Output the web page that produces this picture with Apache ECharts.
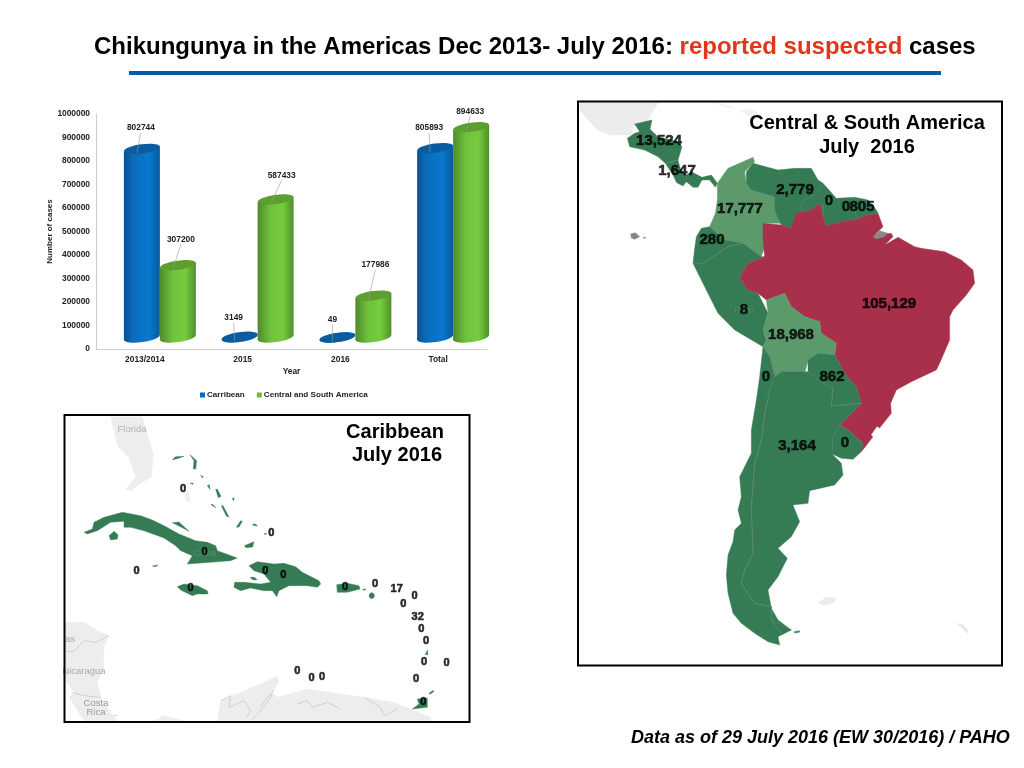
<!DOCTYPE html>
<html><head><meta charset="utf-8">
<style>html,body{margin:0;padding:0;background:#fff}#c{width:1024px;height:768px}</style>
<script src="https://cdn.jsdelivr.net/npm/echarts@6/dist/echarts.min.js"></script>
</head><body><div id="c"></div>
<script>
// ---------- chart values ----------
const years = ['2013/2014','2015','2016','Total'];
const carribean = [802744,3149,49,805893];
const centralSouth = [307200,587433,177986,894633];
const seriesNames = ['Carribean','Central and South America'];

// ---------- map values ----------
const southNames = ['Central America N','Central America S','Venezuela','Guyana','Suriname','French Guiana','Colombia','Ecuador','Peru','Brazil','Bolivia','Paraguay','Chile','Argentina','Uruguay'];
const southLabels = ['13,524','1,647','2,779','0','0','805','17,777','280','8','105,129','18,968','862','0','3,164','0'];
const caribLabels = ['0','0','0','0','0','0','0','0','0','17','0','0','32','0','0','0','0','0','0','0','0','0'];

// ---------- map label anchors (map units) ----------
const southAnchors = [[243,123],[297,213],[651,270],[753,303],[804,321],[852,321],[486,327],[402,420],[498,630],[933,612],[639,705],[762,831],[564,831],[657,1038],[801,1029]];
const caribAnchors = [[357,226],[422,414],[218,470],[380,522],[604,470],[622,356],[658,482],[843,520],[933,510],[998,526],[1018,570],[1052,546],[1061,610],[1072,645],[1086,682],[1080,744],[1148,746],[1056,794],[1078,865],[700,772],[743,792],[774,788]];

// ---------- map outlines (map units, y down) ----------
const southShapes = {
 'Mexico':[[5,8],[240,8],[222,40],[205,68],[170,72],[160,105],[100,105],[60,92],[5,30]],
 'CubaBg':[[410,10],[440,14],[470,25],[445,22]],
 'HispBg':[[485,32],[520,28],[555,45],[515,48]],
 'Falklands':[[718,1508],[745,1492],[775,1494],[765,1510],[735,1516]],
 'Georgia':[[1135,1570],[1155,1575],[1170,1590],[1168,1600],[1150,1582]],
 'Central America N':[[170,72],[222,60],[216,88],[240,110],[300,125],[312,140],[300,180],[262,190],[240,170],[200,150],[155,140],[148,115],[170,100],[185,95]],
 'Central America S':[[262,190],[300,180],[308,210],[325,225],[340,215],[372,232],[400,225],[418,250],[412,262],[395,240],[372,240],[360,262],[345,262],[325,245],[315,258],[296,248],[285,225]],
 'Colombia':[[418,250],[450,205],[525,172],[530,185],[500,215],[505,250],[520,270],[590,290],[590,330],[610,370],[555,370],[555,420],[560,440],[550,470],[495,430],[440,420],[395,380],[412,340],[418,300]],
 'Venezuela':[[505,215],[525,190],[600,210],[650,205],[700,205],[720,240],[735,250],[720,280],[670,305],[670,335],[640,385],[610,375],[590,330],[590,290],[520,270],[505,250]],
 'Guyana':[[670,305],[720,280],[735,250],[775,295],[738,305],[735,350],[725,310],[700,330],[655,340],[640,385],[670,335]],
 'Suriname':[[775,295],[830,292],[835,358],[790,365],[745,378],[735,350],[738,305]],
 'French Guiana':[[830,292],[870,300],[895,330],[900,340],[870,345],[835,358]],
 'Ecuador':[[395,380],[440,420],[495,430],[450,440],[420,460],[375,490],[345,490],[350,445],[355,410],[370,385]],
 'Peru':[[345,490],[380,560],[420,640],[470,690],[555,740],[565,720],[555,690],[570,640],[540,580],[510,570],[485,535],[510,490],[560,470],[550,470],[495,430],[450,440],[420,460],[375,490]],
 'Brazil':[[555,370],[610,375],[640,385],[655,340],[700,330],[725,310],[735,350],[745,378],[790,365],[835,358],[870,345],[900,340],[915,380],[890,405],[940,400],[945,410],[920,435],[960,412],[1010,440],[1030,445],[1100,455],[1150,480],[1185,510],[1190,550],[1165,585],[1125,630],[1115,650],[1115,720],[1085,790],[1075,810],[1000,845],[955,870],[938,910],[940,940],[900,990],[870,1030],[850,1055],[855,1030],[810,990],[785,975],[850,910],[835,860],[820,845],[800,820],[770,765],[775,730],[730,700],[725,665],[680,650],[640,620],[620,580],[565,600],[540,580],[510,570],[485,535],[510,490],[560,470],[555,420]],
 'Bolivia':[[570,640],[565,600],[620,580],[640,620],[680,650],[725,665],[730,700],[775,730],[770,765],[720,760],[690,780],[680,815],[610,815],[590,830],[575,770],[555,740],[565,720],[555,690]],
 'Paraguay':[[690,780],[720,760],[770,765],[800,820],[835,860],[850,910],[760,918],[765,870],[690,815]],
 'Uruguay':[[785,975],[810,990],[855,1030],[850,1055],[825,1078],[790,1075],[762,1062],[765,1010]],
 'Chile':[[555,740],[575,770],[590,830],[578,860],[560,940],[550,1020],[530,1090],[525,1160],[520,1220],[525,1360],[500,1410],[490,1450],[530,1510],[580,1520],[580,1560],[640,1590],[600,1610],[605,1635],[570,1625],[530,1600],[490,1570],[465,1540],[450,1480],[445,1425],[450,1365],[465,1325],[470,1290],[490,1270],[480,1230],[490,1190],[485,1130],[520,1060],[520,990],[535,900],[545,830]],
 'Argentina':[[590,830],[610,815],[680,815],[690,815],[765,870],[760,918],[850,910],[785,975],[765,1010],[762,1062],[790,1090],[795,1125],[770,1155],[695,1172],[690,1210],[645,1215],[665,1265],[640,1310],[600,1345],[628,1375],[600,1430],[570,1470],[580,1525],[600,1560],[640,1590],[580,1560],[580,1520],[530,1510],[490,1450],[500,1410],[525,1360],[520,1220],[525,1160],[530,1090],[550,1020],[560,940],[578,860]],
 'Fuego':[[648,1595],[665,1592],[664,1597],[650,1599]],
 'Patos':[[880,1005],[897,980],[905,985],[888,1012]],
 'Delta':[[885,410],[905,392],[930,400],[915,412],[895,416]],
 'Galapagos':[[158,402],[172,398],[185,410],[170,418],[160,414]],
 'Galapagos2':[[195,412],[203,412],[200,417]]
};
const southFill = {Mexico:'#ececec',CubaBg:'#f1f1f1',HispBg:'#f1f1f1',Falklands:'#ececec',Georgia:'#e6e6e6',Brazil:'#a8304a',Colombia:'#5c9a6c',Bolivia:'#5c9a6c',Patos:'#ffffff',Delta:'#8a8a8a',Galapagos:'#7d8a84',Galapagos2:'#7d8a84'};
const southLines = {
 'lineChile':[[578,860],[560,940],[550,1020],[530,1090],[525,1160],[520,1220],[525,1360],[500,1410],[490,1450],[530,1510],[580,1520],[580,1560],[610,1600]],
 'lineParaguay':[[765,860],[760,918],[850,910]],
 'lineEcuador':[[375,490],[420,460],[450,440],[495,430]],
 'lineCostaRica':[[262,190],[300,180]],
 'lineArgBol':[[590,830],[610,815],[680,815],[690,780]]
};

const caribShapes = {
 'Florida':[[140,8],[235,8],[250,60],[268,120],[262,190],[235,205],[200,230],[185,225],[215,190],[195,130],[160,95],[150,50]],
 'BahamaBg':[[358,232],[372,228],[380,268],[366,262]],
 'CAmericaN':[[0,625],[60,625],[100,650],[135,665],[95,685],[60,680],[30,712],[0,710]],
 'CAmericaM':[[0,710],[30,712],[60,680],[95,685],[135,665],[120,700],[118,770],[100,800],[110,850],[30,835],[0,790]],
 'CAmericaS':[[30,835],[110,850],[150,910],[160,920],[60,920],[15,850]],
 'Colombia':[[460,920],[470,860],[590,810],[640,785],[645,800],[625,840],[640,850],[610,905],[565,920]],
 'Venezuela':[[625,840],[640,850],[730,825],[900,850],[990,865],[1100,910],[1100,920],[565,920],[610,905]],
 'SmallCoast':[[270,920],[300,905],[360,920]],
 'Cuba':[[60,355],[85,345],[90,325],[120,310],[175,295],[230,305],[265,318],[300,335],[345,360],[395,380],[430,385],[455,395],[460,410],[520,432],[500,440],[440,445],[370,450],[385,425],[350,410],[335,395],[300,372],[240,350],[200,340],[180,340],[180,322],[140,325],[100,350],[70,360]],
 'Jardines':[[325,326],[345,324],[375,352],[355,341]],
 'Youth':[[135,365],[150,352],[162,362],[160,375],[140,378]],
 'Jamaica':[[340,518],[360,510],[400,515],[430,530],[432,540],[400,540],[385,545],[350,528]],
 'Hispaniola':[[555,455],[580,443],[630,450],[660,448],[695,458],[715,475],[765,500],[770,510],[760,520],[730,515],[675,515],[645,530],[638,548],[625,530],[600,530],[560,522],[530,530],[510,520],[512,505],[540,505],[590,510],[620,505],[600,480],[570,470]],
 'Gonave':[[558,490],[572,490],[580,498],[566,497]],
 'PuertoRico':[[818,512],[850,508],[885,515],[888,525],[850,535],[820,535]],
 'StCroix':[[915,545],[918,538],[923,536],[928,538],[932,545],[928,552],[923,554],[918,552]],
 'Trinidad':[[1060,855],[1090,852],[1090,880],[1045,885],[1065,870]],
 'Tobago':[[1095,838],[1108,829],[1109,833],[1098,841]],
 'Dominica':[[1084,722],[1090,708],[1092,722]],
 'B1':[[325,137],[335,128],[360,127],[340,134]],
 'B2':[[378,122],[398,140],[395,165],[388,165],[390,140]],
 'B3':[[410,184],[418,188],[416,192]],
 'B4':[[430,215],[436,212],[438,226]],
 'B5':[[455,226],[460,226],[471,247],[463,251]],
 'B6':[[505,253],[511,252],[508,260]],
 'B7':[[441,272],[446,271],[456,282]],
 'B8':[[472,275],[477,275],[495,309],[487,306]],
 'B9':[[517,340],[530,320],[535,322],[525,339]],
 'B10':[[565,331],[573,330],[581,335],[570,335]],
 'B11':[[541,395],[570,383],[566,399],[546,401]],
 'B12':[[600,359],[607,358],[606,362]],
 'B13':[[378,208],[388,207],[386,211]],
 'B14':[[265,456],[282,453],[275,458]],
 'PR2':[[895,527],[905,524],[903,529]]
};
const caribFill = {Florida:'#ededed',BahamaBg:'#f0f0f0',CAmericaN:'#ededed',CAmericaM:'#ededed',CAmericaS:'#ededed',Colombia:'#ededed',Venezuela:'#ededed',SmallCoast:'#eeeeee'};
const caribLines = {
 'lineHondNic':[[0,712],[30,712],[60,680],[95,685],[135,665]],
 'lineNicCR':[[25,835],[60,845],[110,850]],
 'lineCR':[[148,905],[160,905]],
 'lineCol':[[470,860],[500,845],[495,880],[540,860],[560,890],[545,915]],
 'lineVen':[[625,840],[600,880],[565,915]],
 'lineVen2':[[700,870],[730,860],[745,880],[790,865],[830,885]],
 'lineVen3':[[900,850],[950,880],[960,905],[1000,885]],
 'lineWater':[[630,830],[610,850],[590,880]]
};

// ---------- bar label offsets from the cylinder top ----------
const carribeanLabelShift = [[-1,-21],[-6,-19],[-5,-18],[-6,-20]];
const centralLabelShift = [[3,-26],[6,-24],[2,-31],[-1,-16]];

const GREEN = '#357c55', SANS = '"Liberation Sans", Arial, sans-serif';

function toGeo(shapes,lines){
  const feats = Object.keys(shapes).map(n=>{
    const r = shapes[n].map(p=>[p[0],-p[1]]); r.push(r[0]);
    return {type:'Feature',properties:{name:n},geometry:{type:'Polygon',coordinates:[r]}};
  });
  Object.keys(lines).forEach(n=>feats.push({type:'Feature',properties:{name:n},
    geometry:{type:'LineString',coordinates:lines[n].map(p=>[p[0],-p[1]])}}));
  return {type:'FeatureCollection',features:feats};
}
echarts.registerMap('southMap',toGeo(southShapes,southLines));
echarts.registerMap('caribMap',toGeo(caribShapes,caribLines));

function regionStyles(shapes,fills,lines,lineColor){
  const out = Object.keys(shapes).map(n=>{const c=fills[n]||GREEN;return {name:n,
    itemStyle:{areaColor:c,borderColor:c,borderWidth:0.4}};});
  Object.keys(lines).forEach(n=>out.push({name:n,itemStyle:{areaColor:'rgba(0,0,0,0)',borderColor:lineColor,borderWidth:0.8}}));
  return out;
}

const bw = 18, tilt = 0.14, lift = 11.5, ry = 4.6;
function cylinder(dx,main,cap,shifts){
  return function(params,api){
    const cat = api.value(0), val = api.value(1), i = params.dataIndex;
    const top = api.coord([cat,val]), base = api.coord([cat,0]);
    const cx = top[0]+dx, ty = top[1]-lift, by = base[1]-lift, slope = bw*tilt;
    const grad = new echarts.graphic.LinearGradient(0,0,1,0,main);
    const lab = shifts[i];
    const lx = cx+lab[0], ly = ty+lab[1];
    const kids = [
      {type:'ellipse',shape:{cx:cx,cy:by,rx:bw,ry:ry},rotation:tilt,originX:cx,originY:by,style:{fill:grad}},
      {type:'polygon',shape:{points:[[cx-bw,ty+slope],[cx+bw,ty-slope],[cx+bw,by-slope],[cx-bw,by+slope]]},style:{fill:grad}},
      {type:'ellipse',shape:{cx:cx,cy:ty,rx:bw,ry:ry},rotation:tilt,originX:cx,originY:ty,style:{fill:cap}},
      {type:'line',shape:{x1:lx,y1:ly+5,x2:cx-5,y2:ty+4},style:{stroke:'#9a9a9a',lineWidth:0.6}},
      {type:'text',x:lx,y:ly,style:{text:String(val),fill:'#222',font:'bold 8.4px '+SANS,align:'center',verticalAlign:'middle'}}
    ];
    return {type:'group',children:kids};
  };
}
const blueStops=[{offset:0,color:'#0a4f8e'},{offset:.25,color:'#0a6cbc'},{offset:.7,color:'#0878cc'},{offset:1,color:'#0a5a9e'}];
const greenStops=[{offset:0,color:'#4d8a2c'},{offset:.35,color:'#70c23c'},{offset:.7,color:'#76cc3e'},{offset:1,color:'#4f8f2c'}];

const numLabel = {show:true,position:'inside',color:'#000',fontFamily:SANS,fontWeight:'bold'};
const head = (text,left,top,size,color,extra)=>({text,left,top,padding:0,textAlign:'center',
  textStyle:Object.assign({fontFamily:SANS,fontWeight:'bold',fontSize:size,color:color},extra||{})});
const option = {
  animation:false,
  title:[
    {text:'{a|Chikungunya in the Americas Dec 2013- July 2016: }{r|reported suspected}{a| cases}',left:94,top:35,padding:0,
     textStyle:{rich:{a:{fontFamily:SANS,fontWeight:'bold',fontSize:24,color:'#000'},r:{fontFamily:SANS,fontWeight:'bold',fontSize:24,color:'#e2361b'}}}},
    head('Central & South America',867,113,20,'#000'),
    head('July  2016',867,137,20,'#000'),
    head('Caribbean',395,422,20,'#000'),
    head('July 2016',397,445,20,'#000'),
    {text:'Data as of 29 July 2016 (EW 30/2016) / PAHO',left:631,top:729,padding:0,textStyle:{fontFamily:SANS,fontWeight:'bold',fontStyle:'italic',fontSize:18,color:'#000'}},
    head('Florida',132,424,9.5,'#b4b4b4',{fontWeight:'normal'}),
    head('as',70,634,9.5,'#aaaaaa',{fontWeight:'normal'}),
    head('Nicaragua',84,666,9.5,'#aaaaaa',{fontWeight:'normal'}),
    head('Costa',96,698,9.5,'#999999',{fontWeight:'normal'}),
    head('Rica',96,707,9.5,'#999999',{fontWeight:'normal'}),
    head('Peru',744,305,9.5,'#4f8a69',{fontWeight:'normal'}),
    head('Cuba',205,548,9.5,'#558e70',{fontWeight:'normal'})
  ],
  grid:{left:96,top:114,width:391,height:235},
  xAxis:{type:'category',data:years,name:'Year',nameLocation:'middle',nameGap:19,
    nameTextStyle:{fontFamily:SANS,fontWeight:'bold',fontSize:8.4,color:'#222'},
    axisTick:{show:false},axisLine:{lineStyle:{color:'#cfcfcf',width:1}},
    axisLabel:{fontFamily:SANS,fontWeight:'bold',fontSize:8.4,color:'#222',margin:7}},
  yAxis:{type:'value',min:0,max:1000000,interval:100000,name:'Number of cases',nameLocation:'middle',nameGap:40,
    nameTextStyle:{fontFamily:SANS,fontWeight:'bold',fontSize:8,color:'#222'},
    splitLine:{show:false},axisTick:{show:false},axisLine:{show:true,lineStyle:{color:'#cfcfcf',width:1}},
    axisLabel:{fontFamily:SANS,fontWeight:'bold',fontSize:8.4,color:'#222',margin:6,formatter:v=>String(v)}},
  legend:{data:seriesNames,left:195,top:386,itemWidth:5,itemHeight:5,itemGap:12,icon:'rect',selectedMode:false,
    textStyle:{fontFamily:SANS,fontWeight:'bold',fontSize:8.1,color:'#222',padding:[0,0,0,-3]}},
  geo:[
    {map:'southMap',aspectScale:1,boundingCoords:[[0,0],[1278,-1698]],left:578,top:100,width:426,height:566,roam:false,silent:true,
     label:{show:false},emphasis:{disabled:true},regions:regionStyles(southShapes,southFill,southLines,'#66857a')},
    {map:'caribMap',aspectScale:1,boundingCoords:[[0,0],[1218,-924]],left:64,top:414,width:406,height:308,roam:false,silent:true,
     label:{show:false},emphasis:{disabled:true},regions:regionStyles(caribShapes,caribFill,caribLines,'#c8c8c8')}
  ],
  series:[
    {name:seriesNames[0],type:'custom',renderItem:cylinder(-3,blueStops,'#0a5c9e',carribeanLabelShift),itemStyle:{color:'#0a6cbc'},
     encode:{x:0,y:1},data:carribean.map((v,i)=>[i,v]),silent:true,z:3},
    {name:seriesNames[1],type:'custom',renderItem:cylinder(33,greenStops,'#5d9e30',centralLabelShift),itemStyle:{color:'#6cbb3a'},
     encode:{x:0,y:1},data:centralSouth.map((v,i)=>[i,v]),silent:true,z:4},
    {type:'scatter',geoIndex:0,coordinateSystem:'geo',symbolSize:1,itemStyle:{color:'rgba(0,0,0,0)'},silent:true,z:8,
     data:southAnchors.map((p,i)=>({name:southNames[i],value:[p[0],-p[1]],label:{formatter:southLabels[i]}})),
     label:Object.assign({},numLabel,{fontSize:15,textBorderColor:'#000',textBorderWidth:0.6})},
    {type:'scatter',geoIndex:1,coordinateSystem:'geo',symbolSize:1,itemStyle:{color:'rgba(0,0,0,0)'},silent:true,z:8,
     data:caribAnchors.map((p,i)=>({value:[p[0],-p[1]],label:{formatter:caribLabels[i]}})),
     label:Object.assign({},numLabel,{fontSize:11,textBorderColor:'#000',textBorderWidth:0.6})}
  ],
  graphic:[
    {type:'rect',z:20,shape:{x:129,y:71,width:812,height:4},style:{fill:'#0a5aa5'}},
    {type:'rect',z:20,shape:{x:578,y:101.5,width:424,height:564},style:{fill:'none',stroke:'#000',lineWidth:2}},
    {type:'rect',z:20,shape:{x:64.5,y:415,width:405,height:307},style:{fill:'none',stroke:'#000',lineWidth:2}}
  ]
};
const chart = echarts.init(document.getElementById('c'),null,{width:1024,height:768});
chart.setOption(option);
</script></body></html>
